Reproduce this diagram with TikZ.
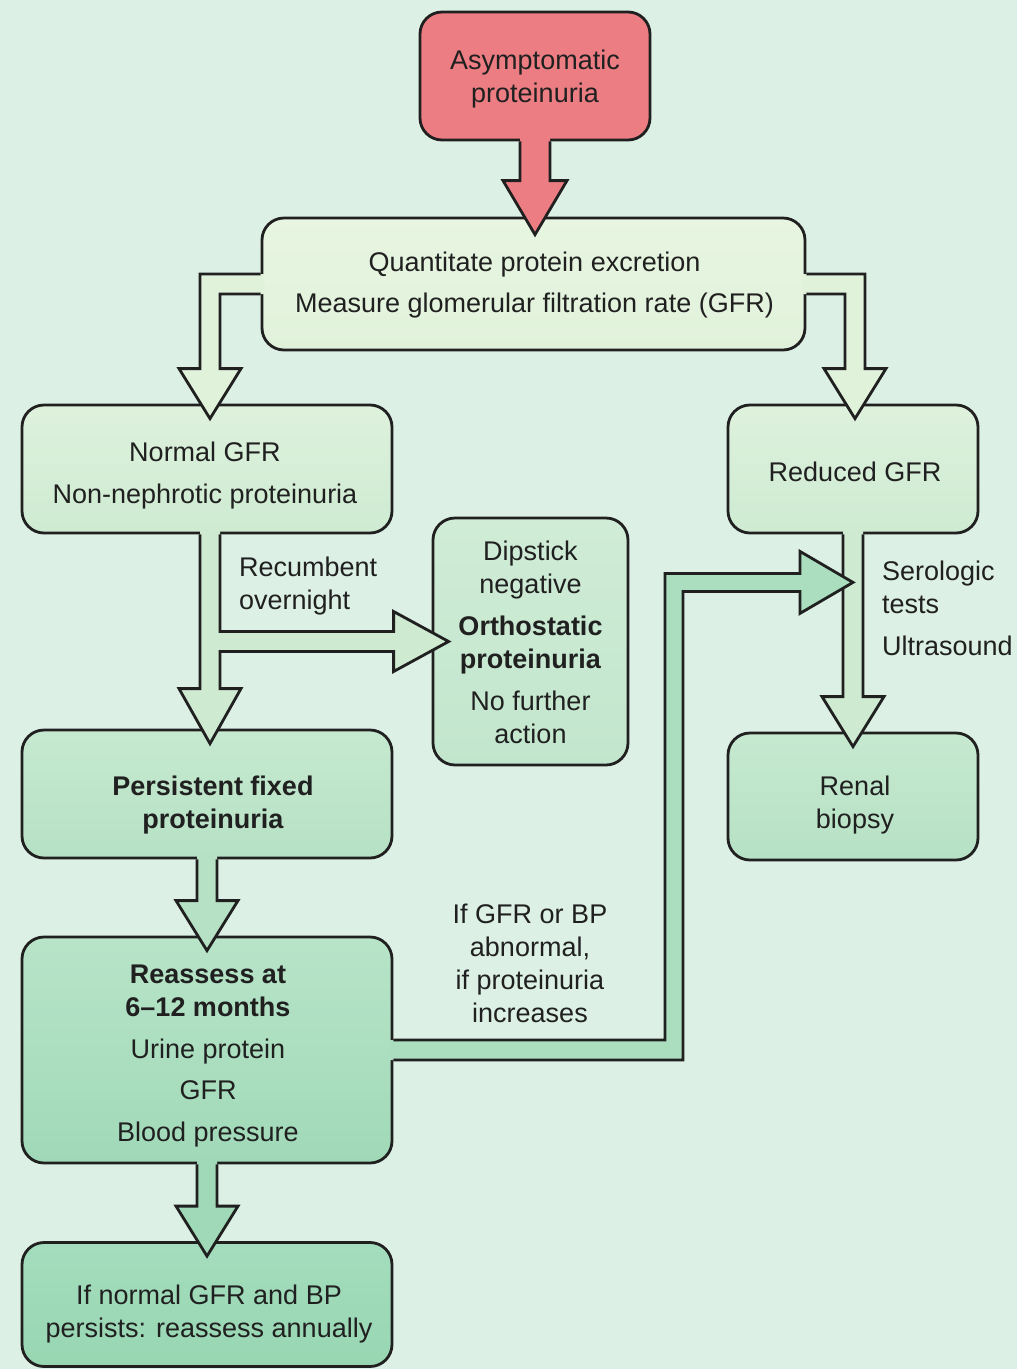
\documentclass[tikz,border=0pt]{standalone}
\usepackage{fontspec}
\setmainfont{Liberation Sans}
\usetikzlibrary{calc}

\definecolor{bg}{RGB}{220,240,229}
\definecolor{ink}{RGB}{32,32,32}
\definecolor{alarm}{RGB}{236,125,131}
\definecolor{qT}{RGB}{231,245,225}
\definecolor{qB}{RGB}{225,242,219}
\definecolor{nT}{RGB}{222,241,220}
\definecolor{nB}{RGB}{206,235,210}
\definecolor{dT}{RGB}{208,236,214}
\definecolor{dB}{RGB}{194,230,205}
\definecolor{pT}{RGB}{198,233,208}
\definecolor{pB}{RGB}{182,225,196}
\definecolor{aT}{RGB}{184,228,200}
\definecolor{aB}{RGB}{160,217,184}
\definecolor{aM}{RGB}{170,222,191}
\definecolor{lT}{RGB}{164,221,189}
\definecolor{lB}{RGB}{152,214,178}

\newcommand\boxfont{\fontsize{27}{33}\selectfont}

\tikzset{
  box/.style={draw=ink, line width=2.8pt, rounded corners=22pt, inner sep=0pt},
  lbl/.style={font=\boxfont, text=ink, inner sep=0pt},
  txt/.style={lbl, align=center},
  fatline/.style={draw=ink, line width=2.8pt, line join=miter},
}

% hollow downward arrow from the bottom of #1 into the top of #2, filled with #3
\newcommand\fatdown[3]{%
  \coordinate (fd-s) at (#1.south);
  \coordinate (fd-t) at (#1.south |- #2.north);
  \fill[#3] ($(fd-s)+(-10,-4)$) -- ($(fd-t)+(-10,-35)$) -- ($(fd-t)+(-31,-35)$)
    -- ($(fd-t)+(0,15)$) -- ($(fd-t)+(31,-35)$) -- ($(fd-t)+(10,-35)$)
    -- ($(fd-s)+(10,-4)$) -- cycle;
  \draw[fatline] ($(fd-s)+(-10,0)$) -- ($(fd-t)+(-10,-35)$) -- ($(fd-t)+(-31,-35)$)
    -- ($(fd-t)+(0,15)$) -- ($(fd-t)+(31,-35)$) -- ($(fd-t)+(10,-35)$)
    -- ($(fd-s)+(10,0)$);
}

\begin{document}
\begin{tikzpicture}[x=1pt,y=-1pt]
\fill[bg] (0,0) rectangle (1017,1369);
\useasboundingbox (0,0) rectangle (1017,1369);

% boxes
\node[box, fill=alarm, minimum width=230pt, minimum height=128pt] (top) at (535,76) {};
\node[box, top color=qT, bottom color=qB, minimum width=543pt, minimum height=132pt] (q) at (533.5,284) {};
\node[box, top color=nT, bottom color=nB, minimum width=370pt, minimum height=128pt] (n) at (207,469) {};
\node[box, top color=nT, bottom color=nB, minimum width=250pt, minimum height=128pt] (r) at (853,469) {};
\node[box, top color=dT, bottom color=dB, minimum width=195pt, minimum height=247pt] (d) at (530.5,641.5) {};
\node[box, top color=pT, bottom color=pB, minimum width=370pt, minimum height=128pt] (p) at (207,794) {};
\node[box, top color=pT, bottom color=pB, minimum width=250pt, minimum height=127pt] (b) at (853,796.5) {};
\node[box, top color=aT, bottom color=aB, minimum width=370pt, minimum height=226pt] (a) at (207,1050) {};
\node[box, top color=lT, bottom color=lB, minimum width=370pt, minimum height=124pt] (l) at (207,1304.5) {};

% red arrow into the first step
\coordinate (rs) at (top.south);
\coordinate (rt) at (top.south |- q.north);
\fill[alarm] ($(rs)+(-15,-4)$) -- ($(rt)+(-15,-36)$) -- ($(rt)+(-32,-36)$) -- ($(rt)+(0,18)$)
  -- ($(rt)+(32,-36)$) -- ($(rt)+(15,-36)$) -- ($(rs)+(15,-4)$) -- cycle;
\draw[fatline] ($(rs)+(-15,0)$) -- ($(rt)+(-15,-36)$) -- ($(rt)+(-32,-36)$) -- ($(rt)+(0,18)$)
  -- ($(rt)+(32,-36)$) -- ($(rt)+(15,-36)$) -- ($(rs)+(15,0)$);

% branch to normal GFR
\fill[qB] ($(q.west)+(4,-10)$) -| ($(n.north)+(-7,-35)$) -- ($(n.north)+(-28,-35)$)
  -- ($(n.north)+(3,15)$) -- ($(n.north)+(34,-35)$) -- ($(n.north)+(13,-35)$)
  |- ($(q.west)+(4,10)$) -- cycle;
\draw[fatline] ($(q.west)+(0,-10)$) -| ($(n.north)+(-7,-35)$) -- ($(n.north)+(-28,-35)$)
  -- ($(n.north)+(3,15)$) -- ($(n.north)+(34,-35)$) -- ($(n.north)+(13,-35)$)
  |- ($(q.west)+(0,10)$);

% branch to reduced GFR
\fill[qB] ($(q.east)+(-4,-10)$) -| ($(r.north)+(12,-35)$) -- ($(r.north)+(33,-35)$)
  -- ($(r.north)+(2,15)$) -- ($(r.north)+(-29,-35)$) -- ($(r.north)+(-8,-35)$)
  |- ($(q.east)+(-4,10)$) -- cycle;
\draw[fatline] ($(q.east)+(0,-10)$) -| ($(r.north)+(12,-35)$) -- ($(r.north)+(33,-35)$)
  -- ($(r.north)+(2,15)$) -- ($(r.north)+(-29,-35)$) -- ($(r.north)+(-8,-35)$)
  |- ($(q.east)+(0,10)$);

% normal GFR: down to persistent, side branch to orthostatic
\fill[nB] ($(n.south)+(-7,-4)$) -- ($(p.north)+(-7,-40)$) -- ($(p.north)+(-28,-40)$)
  -- ($(p.north)+(3,15)$) -- ($(p.north)+(34,-40)$) -- ($(p.north)+(13,-40)$)
  |- ($(d.west)+(-38,10)$) -- ($(d.west)+(-38,30)$) -- ($(d.west)+(17,0)$)
  -- ($(d.west)+(-38,-30)$) -- ($(d.west)+(-38,-10)$) -| ($(n.south)+(13,-4)$) -- cycle;
\draw[fatline] ($(n.south)+(-7,0)$) -- ($(p.north)+(-7,-40)$) -- ($(p.north)+(-28,-40)$)
  -- ($(p.north)+(3,15)$) -- ($(p.north)+(34,-40)$) -- ($(p.north)+(13,-40)$)
  |- ($(d.west)+(-38,10)$) -- ($(d.west)+(-38,30)$) -- ($(d.west)+(17,0)$)
  -- ($(d.west)+(-38,-30)$) -- ($(d.west)+(-38,-10)$) -| ($(n.south)+(13,0)$);

% straight downward steps
\fatdown{r}{b}{nB}
\fatdown{p}{a}{pB}
\fatdown{a}{l}{aB}

% escalation from reassessment up to the serology step
\coordinate (st) at ($(r.south)+(0,48)$);
\fill[aM] ($(a.east)+(-4,-10)$) -| ($(st)+(-188,-9)$) -- ($(st)+(-53,-9)$) -- ($(st)+(-53,-31)$)
  -- (st) -- ($(st)+(-53,31)$) -- ($(st)+(-53,9)$) -- ($(st)+(-170,9)$)
  |- ($(a.east)+(-4,10)$) -- cycle;
\draw[fatline] ($(a.east)+(0,-10)$) -| ($(st)+(-188,-9)$) -- ($(st)+(-53,-9)$) -- ($(st)+(-53,-31)$)
  -- (st) -- ($(st)+(-53,31)$) -- ($(st)+(-53,9)$) -- ($(st)+(-170,9)$)
  |- ($(a.east)+(0,10)$);

% box texts
\node[txt] (top-t) at ($(top)+(0,3)$) {Asymptomatic\\proteinuria};
\node[txt] (q-t) at ($(q)+(1,1)$) {Quantitate protein excretion\\[8pt]Measure glomerular filtration rate (GFR)};
\node[txt] (n-t) at ($(n)+(-2,7)$) {Normal GFR\\[9pt]Non-nephrotic proteinuria};
\node[txt] (r-t) at ($(r)+(2,3)$) {Reduced GFR};
\node[txt] (d-t) at ($(d)+(0,1)$) {Dipstick\\negative\\[9pt]\textbf{Orthostatic}\\\textbf{proteinuria}\\[9pt]No further\\action};
\node[txt] (p-t) at ($(p)+(6,11)$) {\textbf{Persistent fixed}\\\textbf{proteinuria}};
\node[txt] (b-t) at ($(b)+(2,9)$) {Renal\\biopsy};
\node[txt] (a-t) at ($(a)+(1,6)$) {\textbf{Reassess at}\\\textbf{6–12 months}\\[9pt]Urine protein\\[8pt]GFR\\[9pt]Blood pressure};
\node[txt] (l-t) at ($(l)+(2,10)$) {If normal GFR and BP\\persists: reassess annually};

% labels beside the arrows
\node[lbl, anchor=west, align=left] (rec) at (239,586) {Recumbent\\overnight};
\node[lbl, anchor=west, align=left] (sero) at (882,608) {Serologic\\tests\\[9pt]Ultrasound};
\node[lbl, align=center] (cond) at (530,963) {If GFR or BP\\abnormal,\\if proteinuria\\increases};
\end{tikzpicture}
\end{document}
